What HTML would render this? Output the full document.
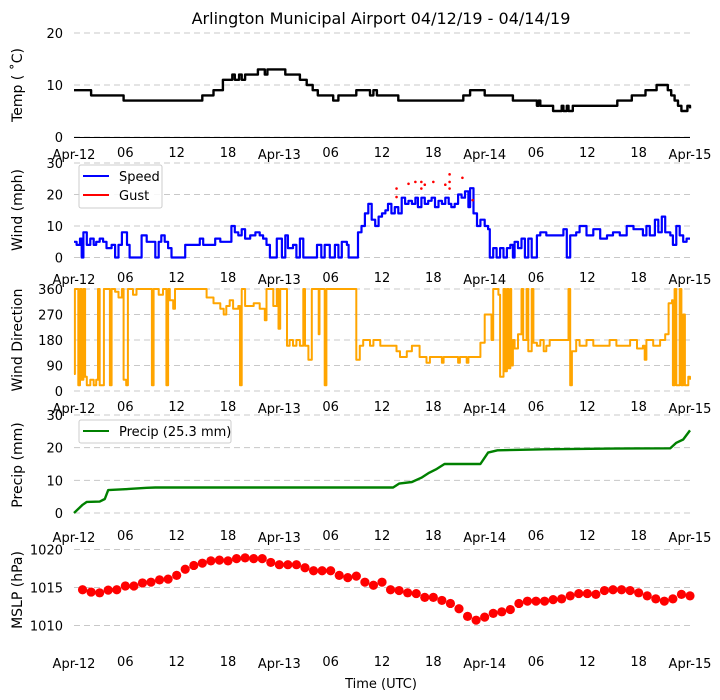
<!DOCTYPE html>
<html><head><meta charset="utf-8"><style>
body{margin:0;background:#fff}
svg{display:block;font-family:"DejaVu Sans","Liberation Sans",sans-serif}
</style></head><body>
<svg id="c" width="720" height="700" viewBox="0 0 720 700" xmlns="http://www.w3.org/2000/svg">
<text x="381" y="24" font-size="16" text-anchor="middle">Arlington Municipal Airport 04/12/19 - 04/14/19</text>
<text x="381" y="688" font-size="13" text-anchor="middle">Time (UTC)</text>
</svg>
<script>
const xTickHours=[0,6,12,18,24,30,36,42,48,54,60,66,72];
const xTickLabels=["Apr-12","06","12","18","Apr-13","06","12","18","Apr-14","06","12","18","Apr-15"];
const tempSteps=[[0,9],[2,8],[5.8,7],[15,8],[16.3,9],[17.4,11],[18.5,12],[18.8,11],[19.3,12],[19.6,11],[20,12],[21.5,13],[22.3,12],[22.6,13],[24.7,12],[26.4,11],[27.2,10],[27.9,9],[28.5,8],[30.3,7],[30.9,8],[33,9],[34.6,8],[35,9],[35.4,8],[37.9,7],[45.5,8],[46.3,9],[48,8],[51.3,7],[54.1,6],[54.3,7],[54.5,6],[56,5],[57,6],[57.2,5],[57.6,6],[57.8,5],[58.3,6],[63.5,7],[65.2,8],[66.8,9],[68.1,10],[69.4,9],[69.8,8],[70.2,7],[70.6,6],[71,5],[71.7,6],[72,5.5]];
const windSpeed=[[0,5],[0.3,4],[0.7,6],[0.9,0],[1.1,8],[1.5,4],[1.9,6],[2.3,4],[2.6,5],[3.0,6],[3.4,5],[3.8,3],[4.4,4],[4.8,0],[5.2,4],[5.6,8],[6.2,4],[6.5,0],[6.9,0],[7.5,0],[7.9,7],[8.5,5],[9.1,5],[9.5,0],[9.9,5],[10.2,7],[10.6,5],[11.0,3],[11.4,0],[12.0,0],[12.6,0],[13.0,4],[13.6,4],[14.3,4],[14.7,6],[15.1,4],[15.9,4],[16.5,6],[17.1,5],[17.8,5],[18.2,5],[18.4,10],[18.8,8],[19.2,7],[19.6,9],[20.0,6],[20.6,7],[21.2,8],[21.7,7],[22.1,6],[22.5,4],[22.9,0],[23.5,0],[23.7,6],[24.3,0],[24.7,7],[25.0,3],[25.6,4],[26.0,0],[26.4,6],[26.8,0],[27.6,0],[28.4,4],[28.9,0],[29.3,4],[29.9,0],[30.5,4],[30.9,0],[31.3,5],[31.9,4],[32.1,0],[32.6,0],[33.2,8],[33.6,10],[34.0,14],[34.4,17],[34.8,12],[35.2,10],[35.6,13],[36.0,14],[36.4,15],[36.7,17],[37.1,14],[37.5,16],[37.9,14],[38.3,19],[38.7,17],[39.1,18],[39.5,17],[39.9,19],[40.2,16],[40.6,19],[41.0,17],[41.4,18],[41.8,19],[42.2,16],[42.6,18],[43.0,17],[43.4,19],[43.8,17],[44.1,16],[44.5,17],[44.9,20],[45.3,19],[45.7,21],[46.1,16],[46.3,22],[46.7,14],[47.1,10],[47.5,12],[48.0,10],[48.4,9],[48.6,0],[49.0,3],[49.4,0],[49.8,3],[50.2,0],[50.6,3],[51.0,4],[51.3,0],[51.5,5],[51.9,3],[52.3,6],[52.7,0],[53.1,6],[53.5,0],[54.1,7],[54.5,8],[55.2,7],[56.0,7],[56.6,7],[57.2,9],[57.6,0],[58.0,7],[58.7,8],[59.1,10],[59.9,7],[60.7,9],[61.5,6],[62.3,7],[63.0,8],[63.8,7],[64.6,10],[65.4,9],[66.2,9],[66.5,7],[66.9,10],[67.3,7],[67.9,12],[68.3,8],[68.7,13],[69.1,8],[69.7,7],[70.0,4],[70.4,10],[70.8,7],[71.2,5],[71.6,6],[72.0,6]];
const windGust=[[37.7,21.9],[37.7,19.2],[39.1,23.4],[39.9,24],[40.6,24],[40.6,21.9],[41.0,23.1],[42.0,24],[43.4,23.1],[43.9,26.4],[43.9,24],[43.9,21.9],[45.4,25.3],[46.6,18.2]];
const windDir=[[0,60],[0.1,360],[0.4,360],[0.5,20],[0.7,360],[0.9,40],[1.1,360],[1.3,50],[1.5,20],[1.9,40],[2.3,20],[2.6,40],[2.8,360],[3.0,20],[3.4,20],[3.5,360],[3.8,360],[4.2,20],[4.4,360],[4.8,350],[5.2,330],[5.6,360],[5.8,40],[6.1,20],[6.3,360],[6.9,340],[7.3,360],[8.9,360],[9.1,20],[9.3,360],[9.9,340],[10.4,360],[10.8,20],[11.0,360],[11.2,320],[11.6,290],[11.8,360],[15.1,360],[15.5,330],[16.3,310],[17.1,290],[17.5,270],[17.8,300],[18.2,320],[18.6,290],[19.2,300],[19.4,20],[19.6,360],[20.0,300],[21.0,310],[21.7,290],[22.3,250],[22.5,360],[23.3,300],[23.7,360],[23.9,220],[24.1,360],[24.9,160],[25.2,180],[25.6,160],[26.0,180],[26.4,160],[26.8,360],[27.0,160],[27.4,110],[27.8,360],[28.6,200],[28.7,360],[29.3,20],[29.5,360],[32.9,360],[33.0,110],[33.4,160],[33.8,180],[34.6,160],[35.0,180],[35.8,160],[37.7,140],[38.1,120],[38.9,140],[39.5,160],[40.4,120],[41.2,100],[41.6,120],[42.8,120],[43.0,100],[43.2,120],[44.9,100],[45.1,120],[45.9,100],[46.1,120],[47.1,120],[47.5,170],[48.0,270],[48.6,270],[48.8,180],[49.0,360],[49.4,360],[49.6,340],[49.8,50],[50.2,360],[50.4,70],[50.6,360],[50.8,80],[51.0,360],[51.1,90],[51.3,180],[51.5,150],[51.9,200],[52.3,360],[52.5,180],[52.9,360],[53.1,140],[53.5,360],[53.7,170],[54.1,160],[54.5,180],[54.9,140],[55.2,160],[55.6,180],[57.6,180],[57.8,360],[58.0,20],[58.2,140],[58.7,180],[59.1,160],[59.9,180],[60.7,160],[62.3,160],[62.6,180],[63.4,160],[64.6,160],[65.0,180],[65.8,150],[66.5,160],[66.7,110],[66.9,180],[67.7,160],[68.5,180],[69.1,200],[69.5,310],[69.9,320],[70.0,20],[70.2,360],[70.4,20],[70.8,360],[71.0,20],[71.2,270],[71.4,20],[71.8,50],[72.0,40]];
const precip=[[0,0],[1,2.5],[1.5,3.4],[3,3.5],[3.6,4.3],[4,7],[6,7.3],[8.5,7.7],[9.5,7.8],[37.3,7.8],[38,9],[39.5,9.5],[40.6,10.8],[41.5,12.3],[42.4,13.5],[43.3,15],[47.5,15],[48.4,18.5],[49.5,19.2],[55,19.5],[63,19.7],[69.7,19.8],[70.4,21.5],[71.2,22.5],[72,25.3]];
const mslp=[1014.7,1014.4,1014.3,1014.65,1014.7,1015.2,1015.2,1015.6,1015.7,1016,1016.1,1016.6,1017.4,1017.9,1018.2,1018.5,1018.6,1018.5,1018.8,1018.9,1018.8,1018.8,1018.3,1018,1018,1018,1017.6,1017.2,1017.2,1017.2,1016.6,1016.3,1016.5,1015.7,1015.3,1015.7,1014.7,1014.6,1014.3,1014.2,1013.7,1013.7,1013.3,1012.9,1012.2,1011.2,1010.7,1011.1,1011.6,1011.8,1012.1,1012.9,1013.2,1013.2,1013.2,1013.4,1013.5,1013.9,1014.2,1014.2,1014.1,1014.6,1014.7,1014.7,1014.6,1014.3,1013.9,1013.5,1013.2,1013.5,1014.1,1013.9];

const NS="http://www.w3.org/2000/svg";
const svg=document.getElementById('c');
const X=h=>74+h*616/72;
function mk(tag,at,parent){const e=document.createElementNS(NS,tag);for(const k in at)e.setAttribute(k,at[k]);(parent||svg).appendChild(e);return e;}
function panel(name,ylabel,ymin,ymax,yTop,yBot,ticks,labY,lblY,tickBase){
  const g=mk('g',{});
  
  
  const Y=v=>yBot-(v-ymin)*(yBot-yTop)/(ymax-ymin);
  ticks.forEach(t=>{
    const ln=mk('line',{x1:74,x2:690,y1:Y(t),y2:Y(t),stroke:'#c8c8c8','stroke-dasharray':'6,4','stroke-width':1},g);
    
    
    const tx=mk('text',{x:63,y:Y(t)+5,'font-size':13,'text-anchor':'end'},g);
    tx.textContent=t;
    
    
  });
  xTickHours.forEach((h,i)=>{
    const tx=mk('text',{x:X(h),y:tickBase+(i%4===0?2:0),'font-size':13,'text-anchor':'middle'},g);
    tx.textContent=xTickLabels[i];
    
    
  });
  const yl=mk('text',{x:0,y:0,'font-size':14,'text-anchor':'middle',transform:`translate(${lblY},${labY}) rotate(-90)`},g);
  yl.textContent=ylabel;
  
  
  return {g,Y};
}
function stepify(arr){const o=[];arr.forEach((s,i)=>{if(i>0)o.push([s[0],arr[i-1][1]]);o.push(s);});return o;}
function line(p,pts,color,name,w){
  const d=pts.map((q,i)=>(i?'L':'M')+X(q[0]).toFixed(1)+','+p.Y(q[1]).toFixed(1)).join('');
  const e=mk('path',{d,fill:'none',stroke:color,'stroke-width':w||2,'stroke-linejoin':'round'},p.g);
  
  
}
// Temp
const p1=panel('temp','Temp ( \u02DAC)',0,20,33,137,[0,10,20],85,22,157);
const ax=mk('line',{x1:74,x2:690,y1:137.5,y2:137.5,stroke:'#000','stroke-width':1},p1.g);


line(p1,stepify(tempSteps),'#000','temp-line',2.4);
// Wind
const p2=panel('wind','Wind (mph)',0,30,163,257.5,[0,10,20,30],210,22,282);
line(p2,stepify(windSpeed),'#0000ff','wind-speed-line',2.2);
windGust.forEach(q=>{const c=mk('circle',{cx:X(q[0]),cy:p2.Y(q[1]),r:1.3,fill:'#ff0000'},p2.g);
  
  });
// Direction
const p3=panel('winddir','Wind Direction',0,360,289,391,[0,90,180,270,360],340,22,411);
line(p3,stepify(windDir),'#ffa500','wind-direction-line',2);
// Precip
const p4=panel('precip','Precip (mm)',0,30,415,513,[0,10,20,30],465,22,540);
line(p4,precip,'#008000','precip-line',2.4);
// MSLP
const p5=panel('mslp','MSLP (hPa)',1010,1020,549.5,625.5,[1010,1015,1020],590,22,666);
mslp.forEach((v,i)=>{const c=mk('circle',{cx:X(i+1),cy:p5.Y(v),r:4.6,fill:'#ff0000'},p5.g);
  
  });
// Legends
function legend(x,y,w,h,items,name){
  const g=mk('g',{});
  
  
  mk('rect',{x,y,width:w,height:h,rx:2,fill:'#fff','fill-opacity':0.85,stroke:'#ccc'},g);
  items.forEach((it,i)=>{
    const cy=y+11+i*19;
    mk('line',{x1:x+4,x2:x+30,y1:cy,y2:cy,stroke:it[1],'stroke-width':2},g);
    const t=mk('text',{x:x+40,y:cy+5,'font-size':13},g);t.textContent=it[0];
    
    
  });
}
legend(79,165,83,43,[['Speed','#0000ff'],['Gust','#ff0000']],'wind-legend');
legend(79,420,152,23,[['Precip (25.3 mm)','#008000']],'precip-legend');
</script>
</body></html>
